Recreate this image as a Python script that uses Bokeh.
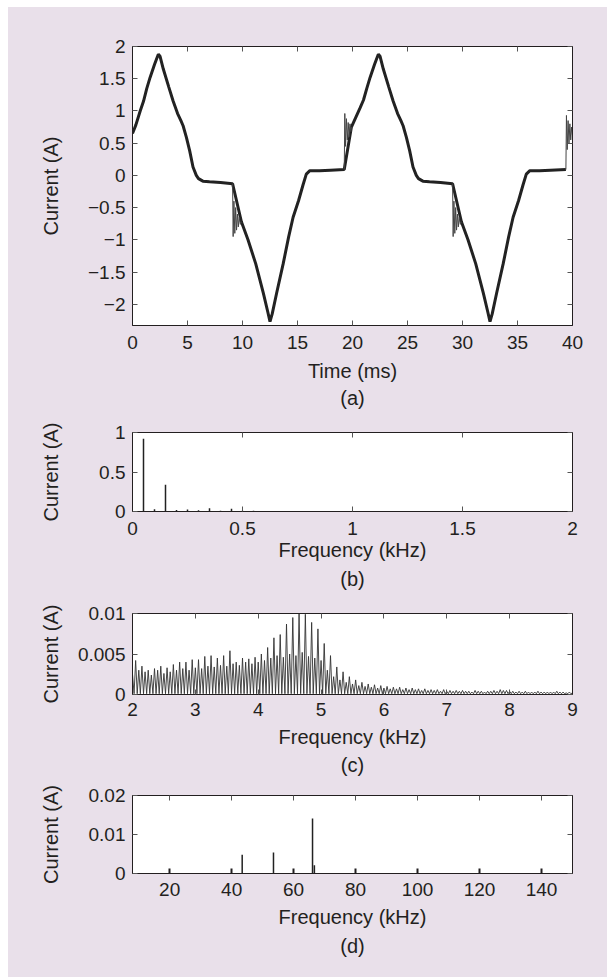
import numpy as np
from bokeh.plotting import figure
from bokeh.models import LinearAxis, FixedTicker, Title, Range1d
from bokeh.layouts import column
from bokeh.embed import file_html
from bokeh.resources import INLINE

# ---------------- data ----------------
# (a) current waveform, time in ms, current in A (main trace)
a_t = [0.0, 0.3, 0.7, 1.0, 1.3, 1.6, 2.0, 2.35, 2.5, 2.8, 3.3, 3.7, 4.1, 4.4, 4.6, 4.9, 5.2, 5.5, 5.8, 6.0,
       6.4, 7.0, 8.0, 9.1,
       9.9, 10.5, 11.2, 11.9, 12.3, 12.5, 12.7, 13.1, 13.7, 14.2, 14.6, 15.1, 15.5, 15.8, 16.1, 17.0, 18.0, 19.25,
       19.9, 20.3, 20.7, 21.0, 21.3, 21.6, 22.0, 22.35, 22.5, 22.8, 23.3, 23.7, 24.1, 24.4, 24.6, 24.9, 25.2,
       25.5, 25.8, 26.0, 26.4, 27.0, 28.0, 29.1,
       29.9, 30.5, 31.2, 31.9, 32.3, 32.5, 32.7, 33.1, 33.7, 34.2, 34.6, 35.1, 35.5, 35.8, 36.1, 37.0, 38.0, 39.4]
a_i = [0.65, 0.78, 1.00, 1.15, 1.35, 1.52, 1.72, 1.88, 1.85, 1.65, 1.37, 1.15, 0.96, 0.85, 0.77, 0.59, 0.38, 0.13, 0.00, -0.05,
       -0.09, -0.10, -0.11, -0.13,
       -0.72, -1.00, -1.37, -1.83, -2.12, -2.27, -2.15, -1.83, -1.37, -0.95, -0.65, -0.39, -0.15, 0.02, 0.07, 0.07, 0.08, 0.09,
       0.75, 0.90, 1.05, 1.17, 1.35, 1.52, 1.72, 1.88, 1.85, 1.65, 1.37, 1.15, 0.96, 0.85, 0.77, 0.59, 0.38,
       0.13, 0.00, -0.05, -0.09, -0.10, -0.11, -0.13,
       -0.72, -1.00, -1.37, -1.83, -2.12, -2.27, -2.15, -1.83, -1.37, -0.95, -0.65, -0.39, -0.15, 0.02, 0.07, 0.07, 0.08, 0.09]

# (a) switching ringing bursts (thin)
ring1_t = [9.10, 9.15, 9.22, 9.30, 9.38, 9.46, 9.54, 9.62, 9.70, 9.80, 9.90]
ring1_i = [-0.13, -0.95, -0.40, -0.90, -0.50, -0.85, -0.60, -0.80, -0.65, -0.76, -0.72]
ring2_t = [19.25, 19.30, 19.37, 19.45, 19.53, 19.61, 19.69, 19.77, 19.85, 19.90]
ring2_i = [0.09, 0.96, 0.45, 0.88, 0.55, 0.82, 0.60, 0.80, 0.68, 0.75]
ring3_t = [29.10, 29.15, 29.22, 29.30, 29.38, 29.46, 29.54, 29.62, 29.70, 29.80, 29.90]
ring3_i = [-0.13, -0.95, -0.40, -0.90, -0.50, -0.85, -0.60, -0.80, -0.65, -0.76, -0.72]
ring4_t = [39.40, 39.45, 39.52, 39.60, 39.68, 39.76, 39.84, 39.92, 40.0]
ring4_i = [0.09, 0.93, 0.40, 0.85, 0.50, 0.80, 0.55, 0.75, 0.62]

# (b) low-frequency spectrum: harmonic frequency (kHz) and amplitude (A)
b_f = [0.05, 0.10, 0.15, 0.20, 0.25, 0.30, 0.35, 0.40, 0.45, 0.50, 0.55, 0.65, 0.75]
b_a = [0.92, 0.03, 0.34, 0.02, 0.025, 0.015, 0.04, 0.01, 0.035, 0.008, 0.01, 0.006, 0.005]

# (c) mid-frequency spectrum, 50 Hz harmonics from 2.00 to 9.00 kHz
c_even = [0.0025, 0.0030, 0.0028, 0.0024, 0.0030, 0.0026, 0.0028, 0.0030, 0.0032, 0.0030,
          0.0033, 0.0032, 0.0035, 0.0034, 0.0036, 0.0035, 0.0038, 0.0036, 0.0040, 0.0038,
          0.0040, 0.0042, 0.0045, 0.0048, 0.0046, 0.0050, 0.0048, 0.0052, 0.0047, 0.0045,
          0.0042, 0.0030, 0.0022, 0.0018, 0.0015, 0.0013, 0.0011, 0.0010, 0.0009, 0.0008,
          0.0008, 0.0007, 0.0007, 0.0006, 0.0006, 0.0006, 0.0005, 0.0005, 0.0005, 0.0004,
          0.0004, 0.0004, 0.0004, 0.0004, 0.0003, 0.0004, 0.0003, 0.0004, 0.0004, 0.0005,
          0.0004, 0.0003, 0.0003, 0.0003, 0.0003, 0.0003, 0.0003, 0.0003, 0.0003, 0.0002,
          0.0002]
c_odd = [0.0042, 0.0035, 0.0030, 0.0032, 0.0035, 0.0033, 0.0037, 0.0040, 0.0040, 0.0043,
         0.0043, 0.0047, 0.0048, 0.0045, 0.0048, 0.0054, 0.0040, 0.0045, 0.0044, 0.0046,
         0.0050, 0.0058, 0.0070, 0.0074, 0.0087, 0.0095, 0.0100, 0.0099, 0.0089, 0.0081,
         0.0063, 0.0048, 0.0034, 0.0028, 0.0022, 0.0018, 0.0015, 0.0013, 0.0012, 0.0011,
         0.0010, 0.0009, 0.0009, 0.0008, 0.0008, 0.0007, 0.0007, 0.0006, 0.0006, 0.0006,
         0.0005, 0.0005, 0.0005, 0.0004, 0.0005, 0.0004, 0.0004, 0.0005, 0.0006, 0.0005,
         0.0004, 0.0004, 0.0004, 0.0003, 0.0004, 0.0003, 0.0003, 0.0004, 0.0003, 0.0003]
c_floor = 0.0001
c_start_harmonic = 40   # 2.00 kHz / 50 Hz
c_fund = 0.05           # kHz

# (d) high-frequency spectrum: switching components (kHz, A)
d_f = [43.4, 53.5, 66.1, 66.7]
d_a = [0.0048, 0.0054, 0.0141, 0.0021]

# tick values / labels
a_xticks = [0, 5, 10, 15, 20, 25, 30, 35, 40]
a_yticks = [-2, -1.5, -1, -0.5, 0, 0.5, 1, 1.5, 2]
b_xticks = [0, 0.5, 1, 1.5, 2]
b_yticks = [0, 0.5, 1]
c_xticks = [2, 3, 4, 5, 6, 7, 8, 9]
c_yticks = [0, 0.005, 0.01]
d_xticks = [20, 40, 60, 80, 100, 120, 140]
d_yticks = [0, 0.01, 0.02]

# ---------------- styling ----------------
BG = "#e9e0ea"
INK = "#231f20"
FONT = "Liberation Sans"
TICK_FS = "19px"
TITLE_FS = "20px"
FIG_W = 599


def label_map(ticks):
    out = {}
    for t in ticks:
        s = ("%g" % abs(t))
        out[t] = ("\u2212" + s) if t < 0 else s
    return out


def style_axis(ax, ticks, show_labels=True):
    ax.ticker = FixedTicker(ticks=ticks)
    ax.major_tick_in = 5
    ax.major_tick_out = 0
    ax.minor_tick_line_color = None
    ax.axis_line_color = INK
    ax.axis_line_width = 1
    ax.major_tick_line_color = "#555555"
    ax.major_tick_line_width = 1
    if show_labels:
        ax.major_label_overrides = label_map(ticks)
        ax.major_label_text_font = FONT
        ax.major_label_text_font_size = TICK_FS
        ax.major_label_text_color = INK
    else:
        ax.major_label_text_font_size = "1px"
        ax.major_label_text_color = None
        ax.major_label_standoff = 0


def make_fig(height, top, bottom, xr, yr, xticks, yticks, xtitle, sub,
             ylab_standoff, tick_so, lab_so, sub_so):
    p = figure(width=FIG_W, height=height,
               min_border_left=124, min_border_right=35,
               min_border_top=top, min_border_bottom=bottom,
               x_range=Range1d(*xr), y_range=Range1d(*yr),
               output_backend="svg", toolbar_location=None)
    p.grid.visible = False
    p.background_fill_color = "white"
    p.border_fill_color = BG
    p.outline_line_color = INK
    p.outline_line_width = 1
    xa = p.below[0]
    ya = p.left[0]
    style_axis(xa, xticks)
    style_axis(ya, yticks)
    xa.major_label_standoff = tick_so
    ya.major_label_standoff = 7
    xa.axis_label = xtitle
    ya.axis_label = "Current (A)"
    for ax in (xa, ya):
        ax.axis_label_text_font = FONT
        ax.axis_label_text_font_size = TITLE_FS
        ax.axis_label_text_font_style = "normal"
        ax.axis_label_text_color = INK
    xa.axis_label_standoff = lab_so
    ya.axis_label_standoff = ylab_standoff
    top_ax = LinearAxis()
    style_axis(top_ax, xticks, show_labels=False)
    right_ax = LinearAxis()
    style_axis(right_ax, yticks, show_labels=False)
    p.add_layout(top_ax, "above")
    p.add_layout(right_ax, "right")
    t = Title(text=sub, align="center", text_font=FONT, text_font_size=TITLE_FS,
              text_font_style="normal", text_color=INK, standoff=sub_so)
    p.add_layout(t, "below")
    return p


# (a)
pa = make_fig(406, 39, 88, (0, 40), (-2.33, 2), a_xticks, a_yticks, "Time (ms)", "(a)",
              23, 10, 8, 1)
pa.line(a_t, a_i, line_color="#222222", line_width=3.0)
for rt, ri in ((ring1_t, ring1_i), (ring2_t, ring2_i), (ring3_t, ring3_i), (ring4_t, ring4_i)):
    pa.line(rt, ri, line_color="#444444", line_width=1)

# (b)
pb = make_fig(184, 19, 86, (0, 2), (0, 1), b_xticks, b_yticks, "Frequency (kHz)", "(b)",
              34, 10, 1, 4)
pb.segment(x0=b_f, y0=[0] * len(b_f), x1=b_f, y1=b_a, line_color="#222222", line_width=1.5)

# (c)
cx, cy = [], []
n_h = len(c_even) + len(c_odd)
for k in range(n_h):
    amp = c_even[k // 2] if k % 2 == 0 else c_odd[k // 2]
    f = (c_start_harmonic + k) * c_fund
    cx.append(f)
    cy.append(amp)
    if k < n_h - 1:
        cx.append(f + c_fund / 2)
        cy.append(c_floor)
pc = make_fig(183, 16, 86, (2, 9), (0, 0.01), c_xticks, c_yticks, "Frequency (kHz)", "(c)",
              13, 8, 7, 3)
pc.line(cx, cy, line_color="#333333", line_width=0.9)

# (d)
pd_ = make_fig(197, 15, 104, (8, 150), (0, 0.02), d_xticks, d_yticks, "Frequency (kHz)", "(d)",
               24, 9, 7, 5)
pd_.segment(x0=d_f, y0=[0] * len(d_f), x1=d_f, y1=d_a, line_color="#222222", line_width=1.5)
pd_.below[0].major_tick_line_width = 2
pd_.below[0].major_tick_line_color = INK

layout = column(pa, pb, pc, pd_, margin=(7, 0, 0, 8), spacing=0, width=FIG_W,
                styles={"background-color": BG, "box-shadow": "12px 0 0 0 " + BG})

open("out.html", "w").write(file_html(layout, INLINE))
